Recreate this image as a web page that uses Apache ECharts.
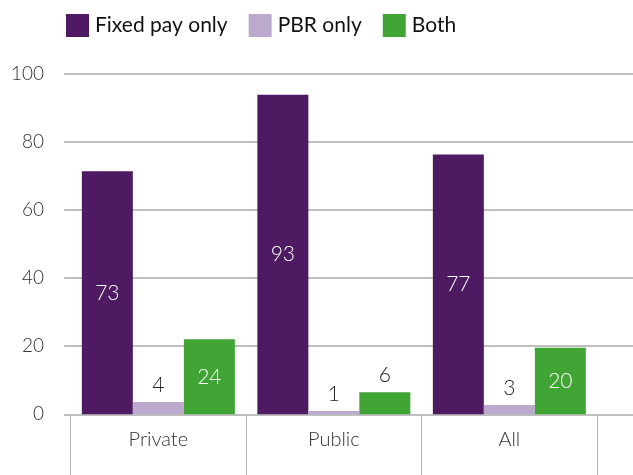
<!DOCTYPE html>
<html>
<head>
<meta charset="utf-8">
<script src="https://cdn.jsdelivr.net/npm/echarts@6/dist/echarts.min.js"></script>
<style>
html,body{margin:0;padding:0;background:#fff;}
#chart{width:633px;height:475px;}
</style>
</head>
<body>
<div id="chart"></div>
<script>
// Data
const categories = ['Private', 'Public', 'All'];
const seriesNames = ['Fixed pay only', 'PBR only', 'Both'];
// bar heights as drawn
const fixedValues = [71.3, 93.8, 76.2];
const pbrValues = [3.6, 1.0, 2.7];
const bothValues = [22.0, 6.5, 19.5];
// printed data labels
const fixedLabels = ['73', '93', '77'];
const pbrLabels = ['4', '1', '3'];
const bothLabels = ['24', '6', '20'];
const yTicks = [0, 20, 40, 60, 80, 100];

const colors = ['#4E1A62', '#BBAACD', '#41A535'];
const FONT = 'Lato, "Open Sans", sans-serif';

function makeData(values, labels) {
  return values.map((v, i) => {
    const inside = v >= 15;
    return {
      value: v,
      label: {
        show: true,
        position: inside ? 'inside' : 'top',
        distance: 6,
        formatter: labels[i],
        color: inside ? '#ffffff' : '#222222',
        fontFamily: FONT,
        fontWeight: 300,
        fontSize: 21
      }
    };
  });
}

const chart = echarts.init(document.getElementById('chart'), null, {renderer: 'canvas'});
const option = {
  animation: false,
  color: colors,
  legend: {
    data: seriesNames,
    left: 66,
    top: 14,
    padding: 0,
    icon: 'rect',
    itemWidth: 23,
    itemHeight: 23,
    itemGap: 21,
    textStyle: {fontFamily: FONT, fontSize: 21, color: '#111111', padding: [0, 0, 0, 1]}
  },
  grid: [
    {left: 64, right: -20, top: 73.5, bottom: 60.7},
    {left: 70.6, width: 526.5, top: 73.5, bottom: 60.7}
  ],
  xAxis: [
    {gridIndex: 0, type: 'value', show: false, min: 0, max: 1},
    {
      gridIndex: 1,
      type: 'category',
      data: categories,
      axisLine: {show: false},
      axisTick: {show: true, length: 62, lineStyle: {color: '#b5b5b5', width: 1}},
      axisLabel: {margin: 15, fontFamily: FONT, fontWeight: 300, fontSize: 20, color: '#333333'}
    }
  ],
  yAxis: [
    {
      gridIndex: 0,
      type: 'value',
      min: 0, max: 100, interval: 20,
      axisLine: {show: false},
      axisTick: {show: false},
      axisLabel: {margin: 20, fontFamily: FONT, fontWeight: 300, fontSize: 19, color: '#333333',
        formatter: v => yTicks.includes(v) ? String(v) : ''},
      splitLine: {lineStyle: {color: '#aaaaaa', width: 1.5}}
    },
    {gridIndex: 1, type: 'value', min: 0, max: 100, show: false, splitLine: {show: false}}
  ],
  series: [
    {name: seriesNames[0], type: 'bar', xAxisIndex: 1, yAxisIndex: 1, barWidth: 51, barGap: '0%',
      data: makeData(fixedValues, fixedLabels)},
    {name: seriesNames[1], type: 'bar', xAxisIndex: 1, yAxisIndex: 1, barWidth: 51, barGap: '0%',
      data: makeData(pbrValues, pbrLabels)},
    {name: seriesNames[2], type: 'bar', xAxisIndex: 1, yAxisIndex: 1, barWidth: 51, barGap: '0%',
      data: makeData(bothValues, bothLabels)}
  ]
};
chart.setOption(option);
</script>
</body>
</html>
